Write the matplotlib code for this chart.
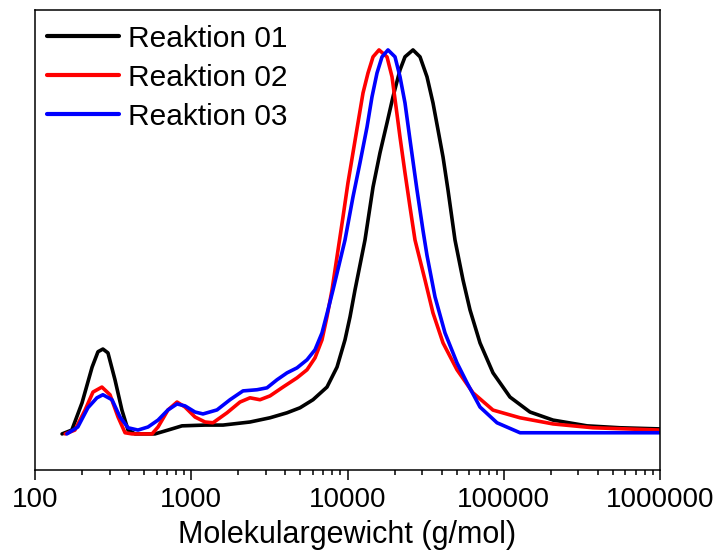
import matplotlib
matplotlib.use("Agg")
import matplotlib.pyplot as plt

plt.rcParams["font.family"] = ["Liberation Sans", "DejaVu Sans"]

# Molecular weight (g/mol) and normalized detector signal
M_01 = [149, 172, 200, 232, 253, 272, 293, 325, 360, 394, 437, 586, 710, 873,
        1225, 1597, 2377, 3192, 4101, 4966, 6015, 7391, 8569, 9638, 10380,
        11170, 12940, 14570, 16140, 17900, 19550, 21680, 23330, 26250, 29110,
        32270, 35250, 37950, 40870, 43980, 48750, 54860, 60810, 70470, 85350,
        109600, 147200, 206600, 341200, 554600, 1000000]
I_01 = [0, 0.010, 0.081, 0.174, 0.214, 0.221, 0.211, 0.141, 0.062, 0.010, 0,
        0, 0.010, 0.021, 0.023, 0.023, 0.031, 0.042, 0.055, 0.068, 0.089,
        0.122, 0.174, 0.245, 0.305, 0.375, 0.505, 0.643, 0.732, 0.810, 0.878,
        0.948, 0.982, 1.0, 0.982, 0.930, 0.862, 0.792, 0.721, 0.635, 0.505,
        0.401, 0.323, 0.237, 0.159, 0.096, 0.057, 0.036, 0.021, 0.016, 0.013]

M_02 = [156, 180, 209, 235, 268, 302, 340, 377, 418, 561, 613, 710, 811, 912,
        1057, 1225, 1378, 1694, 2051, 2377, 2754, 3192, 3866, 4752, 5506, 6194,
        6867, 7391, 7960, 9359, 10070, 10840, 11670, 12570, 13530, 14570, 15910,
        17900, 19270, 20440, 21680, 23330, 25120, 27040, 31330, 35250, 40870,
        50210, 63560, 85350, 127100, 206600, 372600, 1000000]
I_02 = [0, 0.010, 0.062, 0.109, 0.122, 0.102, 0.044, 0.003, 0, 0, 0.018,
        0.0625, 0.083, 0.070, 0.044, 0.031, 0.029, 0.055, 0.083, 0.094, 0.089,
        0.099, 0.122, 0.146, 0.167, 0.198, 0.245, 0.305, 0.375, 0.565, 0.654,
        0.732, 0.810, 0.888, 0.940, 0.982, 1.0, 0.982, 0.930, 0.852, 0.773,
        0.680, 0.591, 0.505, 0.401, 0.315, 0.237, 0.167, 0.107, 0.062, 0.042,
        0.026, 0.016, 0.010]

M_03 = [160, 188, 218, 249, 272, 311, 350, 394, 456, 529, 613, 710, 811, 912,
        1057, 1189, 1462, 1770, 2144, 2635, 3053, 3539, 4101, 4752, 5506, 6194,
        6867, 7501, 8078, 9638, 10840, 12020, 13330, 14350, 15450, 16630, 18160,
        20140, 21680, 23330, 25120, 27850, 30420, 32270, 36310, 42070, 50210,
        58210, 70470, 90530, 127100, 1000000]
I_03 = [0, 0.018, 0.068, 0.094, 0.102, 0.089, 0.044, 0.016, 0.010, 0.018,
        0.036, 0.0625, 0.078, 0.073, 0.057, 0.052, 0.0625, 0.089, 0.112, 0.115,
        0.120, 0.141, 0.159, 0.172, 0.193, 0.219, 0.263, 0.323, 0.375, 0.505,
        0.617, 0.706, 0.799, 0.878, 0.940, 0.982, 1.0, 0.982, 0.930, 0.862,
        0.766, 0.635, 0.530, 0.465, 0.357, 0.263, 0.185, 0.133, 0.070, 0.029,
        0.003, 0.003]

SERIES = [
    ("Reaktion 01", M_01, I_01, "black"),
    ("Reaktion 02", M_02, I_02, "red"),
    ("Reaktion 03", M_03, I_03, "blue"),
]

XTICKS = [100, 1000, 10000, 100000, 1000000]
XTICK_LABELS = ["100", "1000", "10000", "100000", "1000000"]

fig = plt.figure(figsize=(7.25, 5.55), dpi=100)
ax = fig.add_axes([35 / 725, 85 / 555, 625 / 725, 460 / 555])

for label, m, y, color in SERIES:
    ax.plot(m, y, color=color, lw=2.6, label=label,
            solid_joinstyle="round", solid_capstyle="round")

ax.set_xscale("log")
ax.set_xlim(100, 1000000)
ax.set_ylim(-0.094, 1.104)
ax.set_xticks(XTICKS)
ax.set_xticklabels(XTICK_LABELS)
ax.set_yticks([])
ax.tick_params(axis="x", which="major", direction="out", length=7, width=1.1,
               labelsize=20, pad=5)
ax.tick_params(axis="x", which="minor", direction="out", length=3.5, width=1.1)
for sp in ax.spines.values():
    sp.set_linewidth(1.1)
ax.set_xlabel("Molekulargewicht (g/mol)", fontsize=22, labelpad=5)

leg = ax.legend(loc="upper left", bbox_to_anchor=(0.019, 0.968), frameon=False,
                fontsize=21.5, handlelength=2.4, handletextpad=0.33,
                labelspacing=0.37, borderpad=0, borderaxespad=0)
for h in leg.get_lines():
    h.set_linewidth(3)

fig.savefig("out.png", dpi=100)
